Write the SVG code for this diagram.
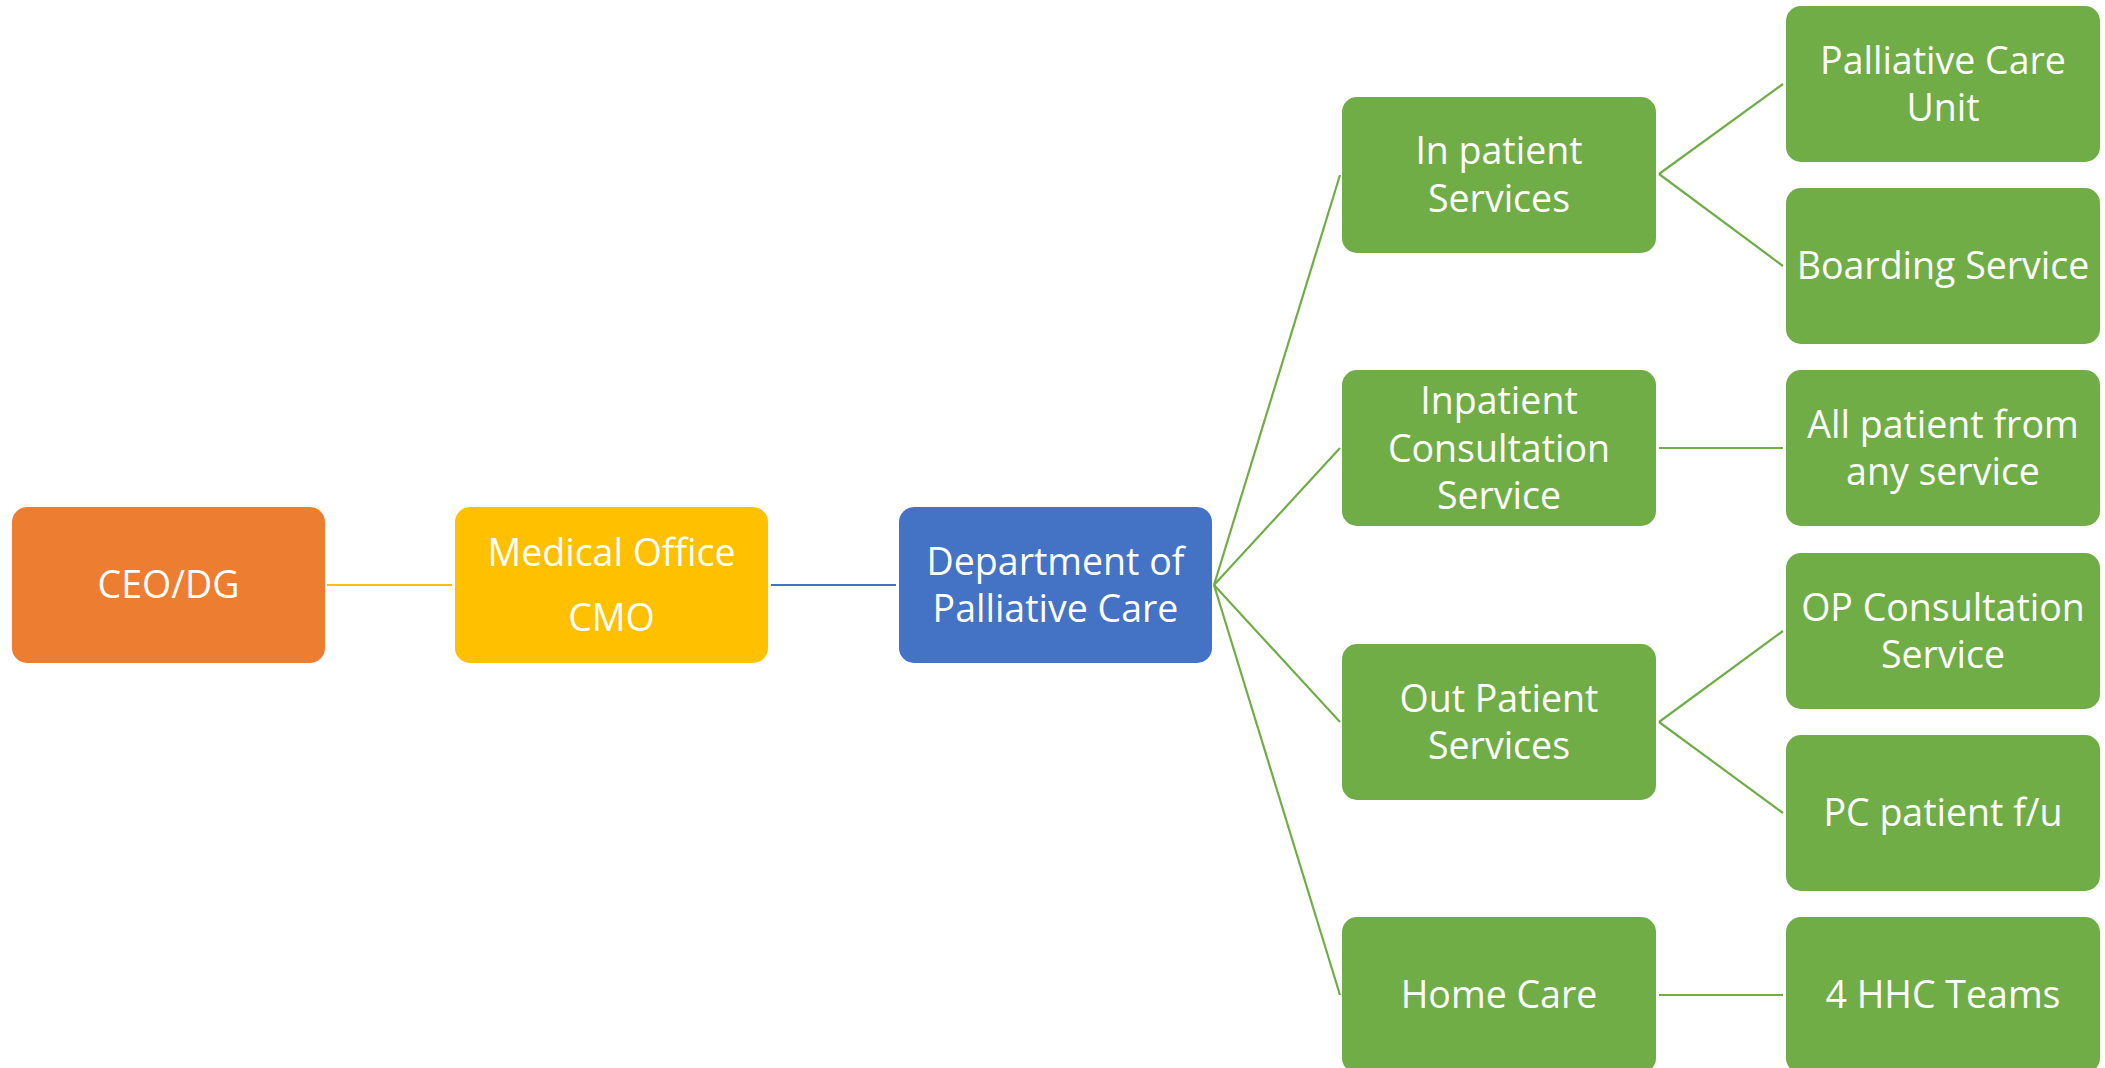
<svg xmlns="http://www.w3.org/2000/svg" width="2105" height="1068" viewBox="0 0 2105 1068">
<style>
.box{stroke:none}
.o{fill:#ED7D31}.y{fill:#FFC000}.b{fill:#4472C4}.g{fill:#70AD47}
.t{font-family:"Open Sans","Noto Sans","Liberation Sans",sans-serif;font-size:37.5px;fill:#FFFFFF;text-anchor:middle}
.c{fill:none;stroke-width:2.2}
.cg{stroke:#70AD47}.cy{stroke:#FFC000}.cb{stroke:#4472C4}
</style>
<rect width="2105" height="1068" fill="#FFFFFF"/>
<g id="connectors">
<line class="c cy" x1="327" y1="585" x2="452" y2="585"/>
<line class="c cb" x1="771" y1="585" x2="896" y2="585"/>
<line class="c cg" x1="1214" y1="585" x2="1340" y2="175"/>
<line class="c cg" x1="1214" y1="585" x2="1340" y2="448"/>
<line class="c cg" x1="1214" y1="585" x2="1340" y2="722"/>
<line class="c cg" x1="1214" y1="585" x2="1340" y2="995"/>
<line class="c cg" x1="1659" y1="174" x2="1783" y2="84"/>
<line class="c cg" x1="1659" y1="174" x2="1783" y2="266"/>
<line class="c cg" x1="1659" y1="448" x2="1783" y2="448"/>
<line class="c cg" x1="1659" y1="722" x2="1783" y2="631"/>
<line class="c cg" x1="1659" y1="722" x2="1783" y2="813"/>
<line class="c cg" x1="1659" y1="995" x2="1783" y2="995"/>
</g>
<g id="ceo">
<rect class="box o" x="12" y="507" width="313" height="156" rx="15"/>
<text class="t" x="168.5" y="598">CEO/DG</text>
</g>
<g id="medical-office">
<rect class="box y" x="455" y="507" width="313" height="156" rx="15"/>
<text class="t" x="611.5" y="566">Medical Office</text>
<text class="t" x="611.5" y="631">CMO</text>
</g>
<g id="department">
<rect class="box b" x="899" y="507" width="313" height="156" rx="15"/>
<text class="t" x="1055.5" y="575">Department of</text>
<text class="t" x="1055.5" y="622">Palliative Care</text>
</g>
<g id="in-patient">
<rect class="box g" x="1342" y="97" width="314" height="156" rx="15"/>
<text class="t" x="1499" y="164">In patient</text>
<text class="t" x="1499" y="212">Services</text>
</g>
<g id="inpatient-consultation">
<rect class="box g" x="1342" y="370" width="314" height="156" rx="15"/>
<text class="t" x="1499" y="414">Inpatient</text>
<text class="t" x="1499" y="461.5">Consultation</text>
<text class="t" x="1499" y="509">Service</text>
</g>
<g id="out-patient">
<rect class="box g" x="1342" y="644" width="314" height="156" rx="15"/>
<text class="t" x="1499" y="712">Out Patient</text>
<text class="t" x="1499" y="759">Services</text>
</g>
<g id="home-care">
<rect class="box g" x="1342" y="917" width="314" height="156" rx="15"/>
<text class="t" x="1499" y="1008">Home Care</text>
</g>
<g id="palliative-care-unit">
<rect class="box g" x="1786" y="6" width="314" height="156" rx="15"/>
<text class="t" x="1943" y="74">Palliative Care</text>
<text class="t" x="1943" y="121">Unit</text>
</g>
<g id="boarding-service">
<rect class="box g" x="1786" y="188" width="314" height="156" rx="15"/>
<text class="t" x="1943" y="279">Boarding Service</text>
</g>
<g id="all-patient">
<rect class="box g" x="1786" y="370" width="314" height="156" rx="15"/>
<text class="t" x="1943" y="438">All patient from</text>
<text class="t" x="1943" y="485">any service</text>
</g>
<g id="op-consultation">
<rect class="box g" x="1786" y="553" width="314" height="156" rx="15"/>
<text class="t" x="1943" y="621">OP Consultation</text>
<text class="t" x="1943" y="668">Service</text>
</g>
<g id="pc-patient-fu">
<rect class="box g" x="1786" y="735" width="314" height="156" rx="15"/>
<text class="t" x="1943" y="826">PC patient f/u</text>
</g>
<g id="hhc-teams">
<rect class="box g" x="1786" y="917" width="314" height="156" rx="15"/>
<text class="t" x="1943" y="1008">4 HHC Teams</text>
</g>
</svg>
